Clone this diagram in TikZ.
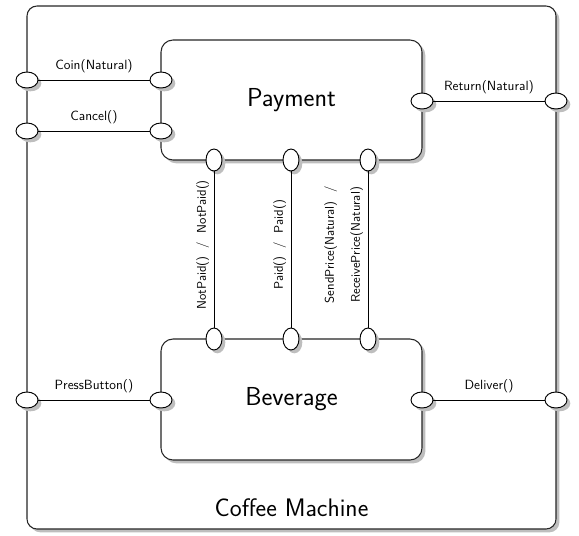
\documentclass[tikz,border=0pt]{standalone}
\usepackage{tikz}
\usetikzlibrary{positioning, calc}
\usetikzlibrary{shapes, shadows}
\begin{document}
\begin{tikzpicture}[x=0.75pt,y=-0.75pt,font=\sffamily]
\definecolor{shadowgray}{RGB}{190,190,190};
\useasboundingbox (0,0) rectangle (579,536);
\tikzstyle{shade}=[drop shadow={shadow xshift=2.5pt, shadow yshift=-2.5pt, fill=shadowgray, opacity=1}];
\tikzstyle{block}=[draw=black!85, line width=0.8pt, fill=white, rounded corners=9pt, shade, font=\sffamily\fontsize{19.5}{23}\selectfont];
\tikzstyle{hport}=[draw, ellipse, fill=white, line width=0.7pt, minimum width=16.5pt, minimum height=12pt, inner sep=0pt, shade];
\tikzstyle{vport}=[hport, minimum width=12pt, minimum height=16.5pt];
\tikzstyle{link}=[line width=0.6pt];
\tikzstyle{msg}=[above=1.5pt, font=\sffamily\normalsize];
\tikzstyle{vmsg}=[rotate=90, above=3.5pt, font=\sffamily\fontsize{9.5}{11.5}\selectfont, align=center];
\node[block, rounded corners=7.5pt, minimum width=396.75pt, minimum height=392.25pt] (machine) at (291.5,267.5) {};
\node[block, minimum width=195.75pt, minimum height=90pt] (payment) at (291.5,100) {Payment};
\node[block, minimum width=195.75pt, minimum height=90.75pt] (beverage) at (291.5,399.5) {Beverage};
\node[font=\sffamily\fontsize{19}{23}\selectfont] (title) at (291.5,508) {Coffee Machine};
\foreach \n/\x/\y in {coinA/27/80, cancelA/27/131, pressA/27/400, coinB/161/80, cancelB/161/131, pressB/161/400, returnA/422/101, deliverA/422/400, returnB/556/101, deliverB/556/400}
\node[hport] (\n) at (\x,\y) {};
\foreach \x [count=\i] in {214,291,368} {
\node[vport] (up\i) at (\x,160) {};
\node[vport] (down\i) at (\x,339) {};
}
\draw[link] (coinA) -- node[msg] {Coin(Natural)} (coinB);
\draw[link] (cancelA) -- node[msg] {Cancel()} (cancelB);
\draw[link] (pressA) -- node[msg] {PressButton()} (pressB);
\draw[link] (returnA) -- node[msg] {Return(Natural)} (returnB);
\draw[link] (deliverA) -- node[msg] {Deliver()} (deliverB);
\draw[link] (up1) -- node[vmsg] {NotPaid()\ \ /\ \ NotPaid()} (down1);
\draw[link] (up2) -- node[vmsg] {Paid()\ \ /\ \ Paid()} (down2);
\draw[link] (up3) -- node[vmsg] {SendPrice(Natural)\ \ /\\[8pt]ReceivePrice(Natural)} (down3);
\end{tikzpicture}
\end{document}
